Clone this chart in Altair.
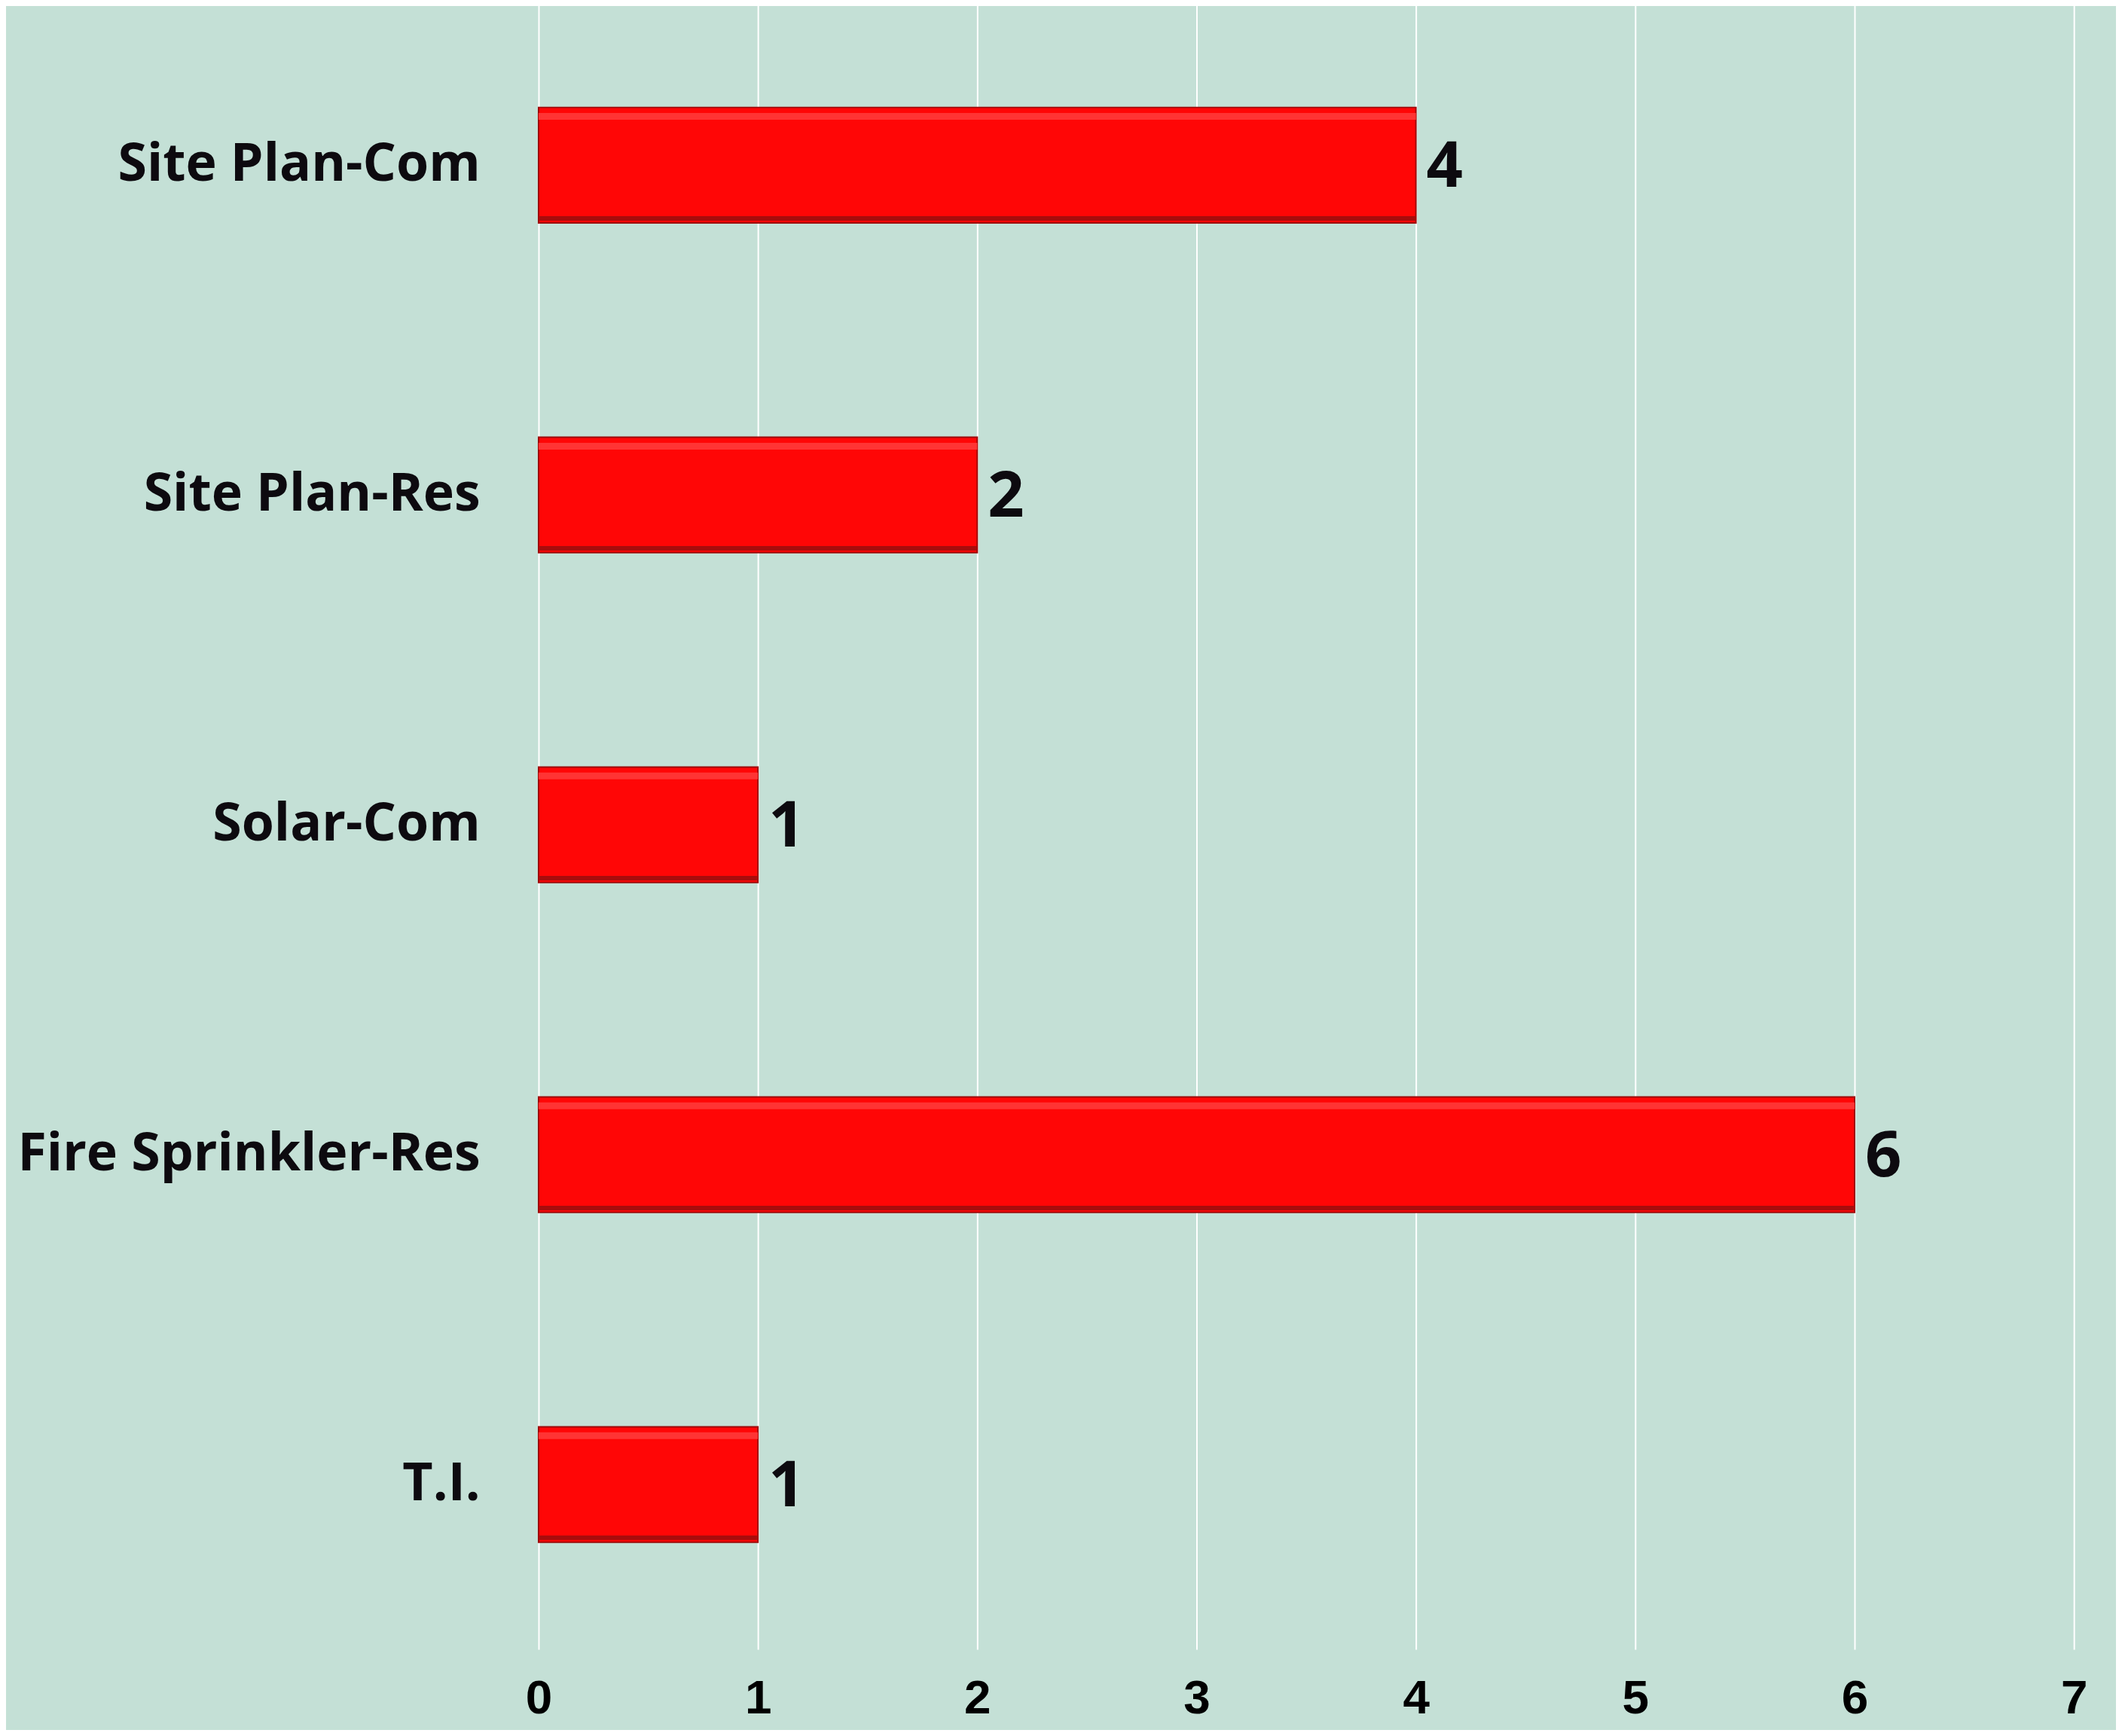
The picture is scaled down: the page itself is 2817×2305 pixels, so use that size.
import altair as alt
import pandas as pd

categories = ["Site Plan-Com", "Site Plan-Res", "Solar-Com", "Fire Sprinkler-Res", "T.I."]
counts = [4, 2, 1, 6, 1]
x_ticks = [0, 1, 2, 3, 4, 5, 6, 7]

df = pd.DataFrame({"cat": categories, "n": counts})

BG = "#C4E0D6"
TXT = "#0D0A0F"

y_enc = alt.Y("cat:N", sort=categories, title=None,
              scale=alt.Scale(paddingInner=0.65, paddingOuter=0.325),
              axis=alt.Axis(domain=False, ticks=False, grid=False, labelFont="Open Sans",
                            labelFontWeight="bold", labelFontSize=70, labelColor=TXT,
                            labelPadding=78, labelLimit=1000))
x_enc = alt.X("n:Q", title=None,
              scale=alt.Scale(domain=[0, 7], nice=False),
              axis=alt.Axis(values=x_ticks, domain=False, ticks=False, grid=True,
                            gridColor="white", gridWidth=2, labelFont="Liberation Sans",
                            labelFontWeight="bold", labelFontSize=64, labelColor="black",
                            labelPadding=34, labelFlush=False, format="d"))

base = alt.Chart(df).encode(y=y_enc, x=x_enc)

bars = base.mark_bar(color="#FF0606", stroke="#9E0A0A", strokeWidth=2)
hi = base.mark_bar(color="#FF3434", size=9, yOffset=-65)
lo = base.mark_bar(color="#A80C0C", size=6, yOffset=71)
labels = base.mark_text(align="left", baseline="middle", dx=14, dy=3, font="Open Sans",
                        fontWeight="bold", fontSize=85, color=TXT).encode(text="n:Q")

chart = alt.layer(bars, hi, lo, labels).properties(
    width=2044, height=2196,
    background=BG,
    padding={"left": 709, "top": -11, "right": 56, "bottom": 104},
    autosize=alt.AutoSizeParams(type="none"),
).configure_view(stroke=None)

chart.save("out.html", embed_options={"renderer": "svg", "actions": False})
